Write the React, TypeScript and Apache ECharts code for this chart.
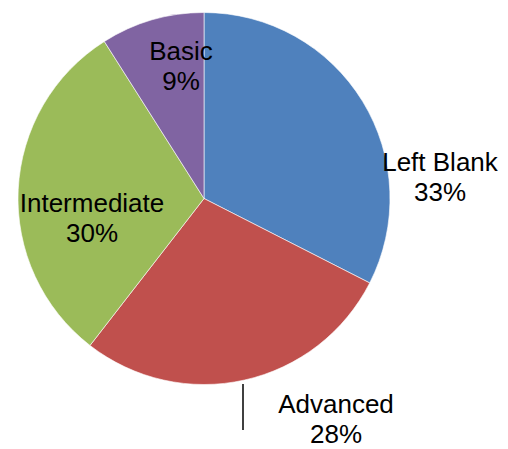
import React, { useEffect, useRef } from "react";
import * as echarts from "echarts";

const categories = ["Left Blank", "Advanced", "Intermediate", "Basic"];
const values = [65, 56, 61, 18];
const colors = ["#4F81BD", "#C0504D", "#9BBB59", "#8064A2"];

// label block centres (layout only)
const labelCenters: [number, number][] = [
  [440, 177],
  [336, 419],
  [92, 218],
  [181, 66],
];

export default function App() {
  const ref = useRef<HTMLDivElement>(null);
  useEffect(() => {
    document.body.style.margin = "0";
    const chart = echarts.init(ref.current!, undefined, { renderer: "svg" });
    chart.setOption({
      animation: false,
      backgroundColor: "#ffffff",
      series: [
        {
          type: "pie",
          center: [204, 198.5],
          radius: 186,
          startAngle: 90,
          clockwise: true,
          percentPrecision: 0,
          avoidLabelOverlap: false,
          data: categories.map((c, i) => ({
            name: c,
            value: values[i],
            itemStyle: { color: colors[i] },
          })),
          itemStyle: { borderColor: "#ffffff", borderWidth: 0.6 },
          label: {
            show: true,
            position: "inside",
            formatter: "{b}\n{d}%",
            fontFamily: "Liberation Sans, Arial, sans-serif",
            fontSize: 26,
            lineHeight: 30,
            color: "#000000",
            align: "center",
            overflow: "none",
            width: 300,
            textBorderWidth: 0,
          },
          labelLine: { show: false },
          labelLayout: (params: any) => {
            const p = labelCenters[params.dataIndex];
            return {
              x: p[0],
              y: p[1],
              align: "center",
              verticalAlign: "middle",
              hideOverlap: false,
              moveOverlap: false,
            };
          },
          emphasis: { disabled: true },
        },
      ],
      graphic: [
        {
          type: "line",
          shape: { x1: 243, y1: 384, x2: 243, y2: 430 },
          style: { stroke: "#000000", lineWidth: 1.5 },
        },
      ],
    });
    return () => chart.dispose();
  }, []);
  return <div ref={ref} style={{ width: 508, height: 449 }} />;
}
